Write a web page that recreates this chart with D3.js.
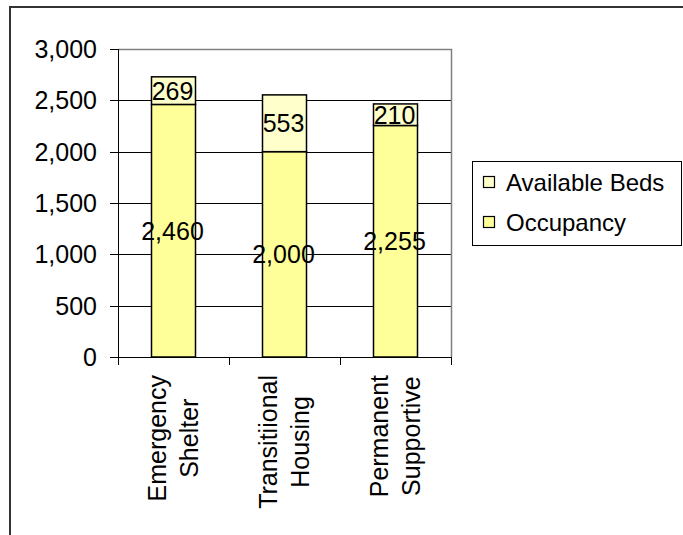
<!DOCTYPE html>
<html>
<head>
<meta charset="utf-8">
<script src="https://cdn.jsdelivr.net/npm/d3@7"></script>
<style>
  html, body { margin: 0; padding: 0; background: #fff; }
  svg { display: block; font-family: "Liberation Sans", Arial, sans-serif; }
</style>
</head>
<body>
<svg id="chart" width="683" height="535"></svg>
<script>
// Bed inventory by program type
const categories = [["Emergency", "Shelter"], ["Transitiional", "Housing"], ["Permanent", "Supportive"]];
const occupancy = [2460, 2000, 2255];
const availableBeds = [269, 553, 210];
const seriesNames = ["Available Beds", "Occupancy"];
const yTicks = [0, 500, 1000, 1500, 2000, 2500, 3000];

const colors = { "Occupancy": "#FFFF99", "Available Beds": "#FFFFCC" };

const svg = d3.select("#chart");
const plot = { left: 118, right: 451, top: 49, bottom: 357 };

// outer chart frame (runs off the right and bottom edges)
svg.append("rect")
  .attr("x", 10).attr("y", 7)
  .attr("width", 700).attr("height", 560)
  .attr("fill", "none").attr("stroke", "#333").attr("stroke-width", 2);

const band = d3.scaleBand().domain(d3.range(categories.length)).range([plot.left, plot.right]);
const y = d3.scaleLinear().domain([0, 3000]).range([plot.bottom, plot.top]);

// gridlines
svg.append("g").selectAll("line").data(yTicks.filter(t => t > 0 && t < 3000)).join("line")
  .attr("x1", plot.left).attr("x2", plot.right)
  .attr("y1", d => Math.round(y(d)) + 0.5).attr("y2", d => Math.round(y(d)) + 0.5)
  .attr("stroke", "#000").attr("stroke-width", 1);

// plot-area border (top and right)
svg.append("path")
  .attr("d", `M${plot.left},${plot.top + 0.5}H${plot.right + 0.5}V${plot.bottom}`)
  .attr("fill", "none").attr("stroke", "#808080").attr("stroke-width", 1.5);

// stacked bars
const stacked = categories.map((c, i) => ({
  i,
  segs: [
    { name: "Occupancy", y0: 0, y1: occupancy[i], v: occupancy[i] },
    { name: "Available Beds", y0: occupancy[i], y1: occupancy[i] + availableBeds[i], v: availableBeds[i] }
  ]
}));
const fmt = d3.format(",");
const barW = 44;

const gBars = svg.append("g");
stacked.forEach(d => {
  const cx = band(d.i) + band.bandwidth() / 2;
  d.segs.forEach(s => {
    gBars.append("rect")
      .attr("x", Math.round(cx - barW / 2) - 0.5)
      .attr("y", y(s.y1))
      .attr("width", barW)
      .attr("height", y(s.y0) - y(s.y1))
      .attr("fill", colors[s.name])
      .attr("stroke", "#000").attr("stroke-width", 1.5);
  });
});
stacked.forEach(d => {
  const cx = band(d.i) + band.bandwidth() / 2;
  d.segs.forEach(s => {
    svg.append("text")
      .attr("x", cx - 1).attr("y", y((s.y0 + s.y1) / 2))
      .attr("dy", "0.36em")
      .attr("text-anchor", "middle")
      .attr("font-size", 25)
      .attr("fill", "#000")
      .text(fmt(s.v));
  });
});

// y axis
const yAxis = svg.append("g");
yAxis.append("line")
  .attr("x1", plot.left + 0.5).attr("x2", plot.left + 0.5)
  .attr("y1", plot.top).attr("y2", plot.bottom + 8)
  .attr("stroke", "#000");
yAxis.selectAll("line.tick").data(yTicks).join("line").attr("class", "tick")
  .attr("x1", plot.left - 8).attr("x2", plot.left)
  .attr("y1", d => Math.round(y(d)) + 0.5).attr("y2", d => Math.round(y(d)) + 0.5)
  .attr("stroke", "#000");
yAxis.selectAll("text").data(yTicks).join("text")
  .attr("x", 97).attr("y", d => y(d)).attr("dy", "0.36em")
  .attr("text-anchor", "end").attr("font-size", 25)
  .text(d => fmt(d));

// x axis
const xAxis = svg.append("g");
xAxis.append("line")
  .attr("x1", plot.left).attr("x2", plot.right)
  .attr("y1", plot.bottom + 0.5).attr("y2", plot.bottom + 0.5)
  .attr("stroke", "#000");
xAxis.selectAll("line.tick").data(d3.range(categories.length + 1)).join("line").attr("class", "tick")
  .attr("x1", d => Math.round(plot.left + d * band.step()) + 0.5)
  .attr("x2", d => Math.round(plot.left + d * band.step()) + 0.5)
  .attr("y1", plot.bottom).attr("y2", plot.bottom + 8)
  .attr("stroke", "#000");

// rotated category labels, lines centred on each other
categories.forEach((lines, i) => {
  const cx = band(i) + band.bandwidth() / 2;
  const g = svg.append("g").attr("transform", `translate(${cx},375) rotate(-90)`);
  const texts = lines.map((ln, k) => g.append("text")
    .attr("text-anchor", "middle").attr("font-size", 25)
    .attr("y", (k === 0 ? -8 : 24))
    .text(ln));
  const maxLen = d3.max(texts, t => t.node().getComputedTextLength());
  texts.forEach(t => t.attr("x", -maxLen / 2));
});

// legend
const lg = svg.append("g");
lg.append("rect").attr("x", 472.5).attr("y", 161.5).attr("width", 209).attr("height", 84)
  .attr("fill", "#fff").attr("stroke", "#000");
seriesNames.forEach((name, k) => {
  const cy = 182 + k * 40;
  lg.append("rect").attr("x", 483.5).attr("y", cy - 5.5).attr("width", 11).attr("height", 11)
    .attr("fill", colors[name]).attr("stroke", "#000").attr("stroke-width", 1.2);
  lg.append("text").attr("x", 506).attr("y", cy).attr("dy", "0.36em")
    .attr("font-size", 24).text(name);
});
</script>
</body>
</html>
